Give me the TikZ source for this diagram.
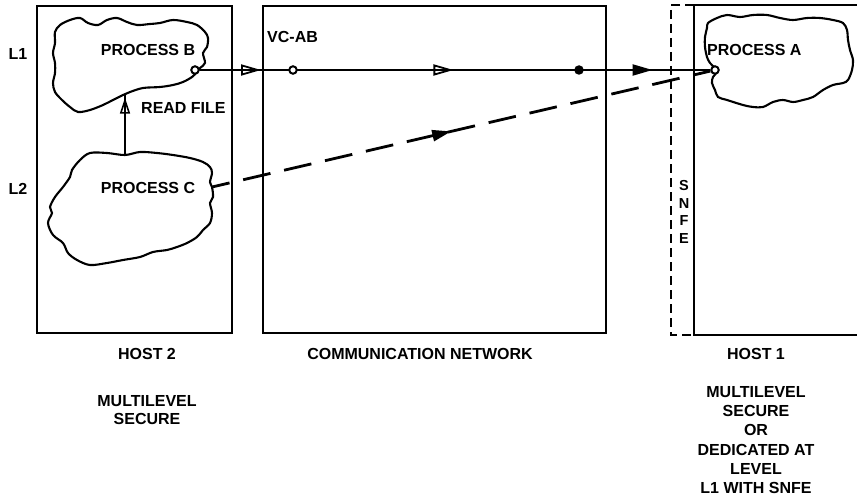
\documentclass[tikz,border=0pt]{standalone}
\usepackage{fontspec}
\setmainfont{Liberation Sans}
\usetikzlibrary{arrows.meta,decorations.markings}
\begin{document}
\begin{tikzpicture}[x=1pt,y=-1pt,
  frame/.style={draw,line width=2pt,inner sep=0pt},
  outline/.style={line width=2.1pt},
  lbl/.style={font=\fontsize{16}{18}\selectfont\bfseries,inner sep=0pt},
  lblsmall/.style={font=\fontsize{14.5}{17.5}\selectfont\bfseries,inner sep=0pt,align=center},
  port/.style={circle,draw,line width=2pt,fill=white,inner sep=0pt,minimum size=7.5pt},
  relaydot/.style={circle,fill,inner sep=0pt,minimum size=9.5pt},
  vcline/.style={line width=2.1pt,postaction={decorate},
    decoration={markings,
      mark=at position 0.12 with {\arrow{Triangle[open,length=20pt,width=11pt,line width=1.8pt]}},
      mark=at position 0.497 with {\arrow{Triangle[open,length=20pt,width=11pt,line width=1.8pt]}},
      mark=at position 0.887 with {\arrow{Triangle[length=20pt,width=11pt]}}}},
  covert/.style={line width=2.8pt,dash pattern=on 28pt off 14pt,dash phase=10pt,
    postaction={decorate},
    decoration={markings,
      mark=at position 0.48 with {\arrow{Triangle[length=19pt,width=11pt]}}}},
  readline/.style={line width=1.8pt,postaction={decorate},
    decoration={markings,
      mark=at position 0.94 with {\arrow{Triangle[open,length=16pt,width=10pt,line width=1.6pt]}}}}
]
\useasboundingbox (0,0) rectangle (857,503);

% host and network frames
\node[frame,minimum width=195pt,minimum height=327pt] (host2) at (134.5,169.5) {};
\node[frame,minimum width=343pt,minimum height=327pt] (net) at (434.5,169.5) {};
\draw[line width=2pt] (857,5) -- (694,5) -- (694,335) -- (857,335);
\draw[line width=1.8pt,dash pattern=on 9pt off 5pt] (694,5) -- (671,5) -- (671,335) -- (694,335);

% process clouds
\draw[outline] plot[smooth cycle,tension=0.55] coordinates {
  (55,32) (60,25) (70,20) (80,18) (88,23) (98,25) (107,20) (117,18) (127,22)
  (137,25) (150,24) (160,23) (173,20) (187,22) (197,25) (205,32) (208,38)
  (207,47) (203,53) (205,63) (200,68) (197,72) (192,77) (183,82) (173,85)
  (160,87) (143,88) (130,92) (123,95) (113,100) (103,105) (90,110) (78,112)
  (70,107) (62,100) (55,92) (53,83) (55,73) (55,63) (53,53) (55,43)};
\draw[outline] plot[smooth cycle,tension=0.55] coordinates {
  (90,153) (107,153) (125,155) (140,152) (157,153) (173,155) (190,158)
  (203,162) (210,167) (212,173) (210,182) (212,187) (213,197) (210,203)
  (212,213) (210,223) (203,230) (197,237) (187,243) (177,247) (167,250)
  (153,252) (140,257) (123,260) (107,263) (90,265) (77,260) (68,253)
  (63,243) (53,235) (48,223) (52,213) (50,207) (55,197) (63,187) (70,177)
  (72,170) (80,160)};
\draw[outline] plot[smooth cycle,tension=0.55] coordinates {
  (708,23) (717,18) (727,15) (740,17) (753,15) (767,15) (780,18) (793,20)
  (807,18) (820,18) (833,20) (843,23) (847,30) (848,40) (850,50) (853,60)
  (852,70) (848,80) (843,83) (833,85) (823,90) (813,97) (803,100) (793,102)
  (783,100) (773,102) (763,107) (753,107) (743,105) (727,100) (718,97)
  (715,90) (712,83) (713,77) (717,72) (715,68) (710,63) (707,57) (705,47)
  (705,37) (707,28)};

% ports on the processes
\node[port] (bport) at (195,70) {};
\node[port] (aport) at (715,70) {};
\coordinate (cport) at (212,187);
\coordinate (ctop) at (125,155);
\coordinate (bbot) at (125,94);

% virtual circuit VC-AB
\draw[vcline] (bport) -- (aport);
\node[port] (vc) at (293,70) {};
\node[relaydot] (relay) at (579,70) {};

% covert path from process C
\draw[covert] (cport) -- (aport);

% read file
\draw[readline] (ctop) -- (bbot);

% labels
\node[lbl] (l1) at (18,54) {L1};
\node[lbl] (l2) at (18,189) {L2};
\node[lbl] (pb) at (148,50) {PROCESS B};
\node[lbl,anchor=west] (rf) at (141,108) {READ FILE};
\node[lbl] (pc) at (148,188) {PROCESS C};
\node[lbl,anchor=west] (vcab) at (267,37) {VC-AB};
\node[lbl,anchor=west] (pa) at (707,50) {PROCESS A};
\node[lblsmall] (snfe) at (684,212) {S\\N\\F\\E};

\node[lbl] (h2) at (147,354) {HOST 2};
\node[lbl] (cn) at (420,354) {COMMUNICATION NETWORK};
\node[lbl] (h1) at (756,354) {HOST 1};
\node[lbl,align=center] (h2sec) at (147,410) {MULTILEVEL\\SECURE};
\node[lbl,align=center,font=\fontsize{16}{19.2}\selectfont\bfseries] (h1sec) at (756,440)
  {MULTILEVEL\\SECURE\\OR\\DEDICATED AT\\LEVEL\\L1 WITH SNFE};
\end{tikzpicture}
\end{document}
